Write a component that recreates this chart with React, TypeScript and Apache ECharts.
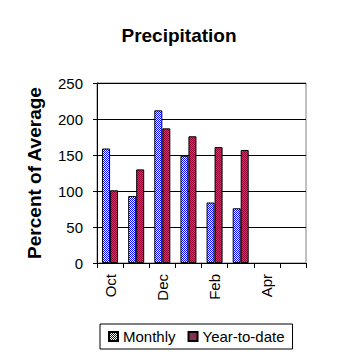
import React, { useEffect, useRef } from "react";
import * as echarts from "echarts";

const categories = ["Oct", "Nov", "Dec", "Jan", "Feb", "Mar", "Apr", "May"];
const monthly = [159, 93, 212, 149, 84, 76, null, null];
const yearToDate = [101, 130, 187, 176, 161, 157, null, null];
const yTicks = { min: 0, max: 250, interval: 50 };

function makePattern(a: string, b: string): string {
  const c = document.createElement("canvas");
  c.width = 2;
  c.height = 2;
  const ctx = c.getContext("2d")!;
  ctx.fillStyle = a;
  ctx.fillRect(0, 0, 2, 2);
  ctx.fillStyle = b;
  ctx.fillRect(1, 0, 1, 1);
  ctx.fillRect(0, 1, 1, 1);
  return c.toDataURL();
}

export default function App() {
  const ref = useRef<HTMLDivElement>(null);
  useEffect(() => {
    const chart = echarts.init(ref.current!, null, { renderer: "svg" });
    const bluePat = { image: makePattern("#0000ff", "#ffffff"), repeat: "repeat" } as any;
    const redPat = { image: makePattern("#990033", "#7a6070"), repeat: "repeat" } as any;
    const font = "Liberation Sans";
    chart.setOption({
      animation: false,
      backgroundColor: "#ffffff",
      title: {
        text: "Precipitation",
        left: "center",
        top: 21,
        textStyle: { fontFamily: font, fontSize: 19, fontWeight: "bold", color: "#000" },
      },
      legend: {
        bottom: 9,
        left: 100,
        icon: "rect",
        itemWidth: 9,
        itemHeight: 9,
        itemGap: 12,
        padding: [5, 8],
        borderColor: "#000",
        borderWidth: 1,
        borderRadius: 0,
        textStyle: { fontFamily: font, fontSize: 15, color: "#000" },
        data: ["Monthly", "Year-to-date"],
      },
      grid: {
        left: 97,
        right: 52,
        top: 83,
        bottom: 95,
        show: true,
        borderColor: "#808080",
        borderWidth: 1,
      },
      xAxis: {
        type: "category",
        data: categories,
        axisLine: { lineStyle: { color: "#000" } },
        axisTick: { show: true, length: 5, interval: 0, lineStyle: { color: "#000" } },
        axisLabel: {
          interval: 1,
          rotate: 90,
          fontFamily: font,
          fontSize: 15,
          color: "#000",
          margin: 11,
        },
      },
      yAxis: {
        type: "value",
        min: yTicks.min,
        max: yTicks.max,
        interval: yTicks.interval,
        name: "Percent of Average",
        nameLocation: "middle",
        nameGap: 53,
        nameTextStyle: { fontFamily: font, fontSize: 19, fontWeight: "bold", color: "#000" },
        axisLine: { show: true, lineStyle: { color: "#000" } },
        axisTick: { show: true, length: 4, lineStyle: { color: "#000" } },
        axisLabel: { fontFamily: font, fontSize: 15, color: "#000", margin: 14 },
        splitLine: { show: true, lineStyle: { color: "#000", width: 1 } },
      },
      series: [
        {
          name: "Monthly",
          type: "bar",
          data: monthly,
          barWidth: 8,
          barGap: "0%",
          itemStyle: { color: bluePat, borderColor: "#000", borderWidth: 1 },
        },
        {
          name: "Year-to-date",
          type: "bar",
          data: yearToDate,
          barWidth: 8,
          barGap: "0%",
          itemStyle: { color: redPat, borderColor: "#000", borderWidth: 1 },
        },
      ],
    });
    return () => chart.dispose();
  }, []);
  return <div ref={ref} style={{ width: 358, height: 358, position: "absolute", left: 0, top: 0 }} />;
}
